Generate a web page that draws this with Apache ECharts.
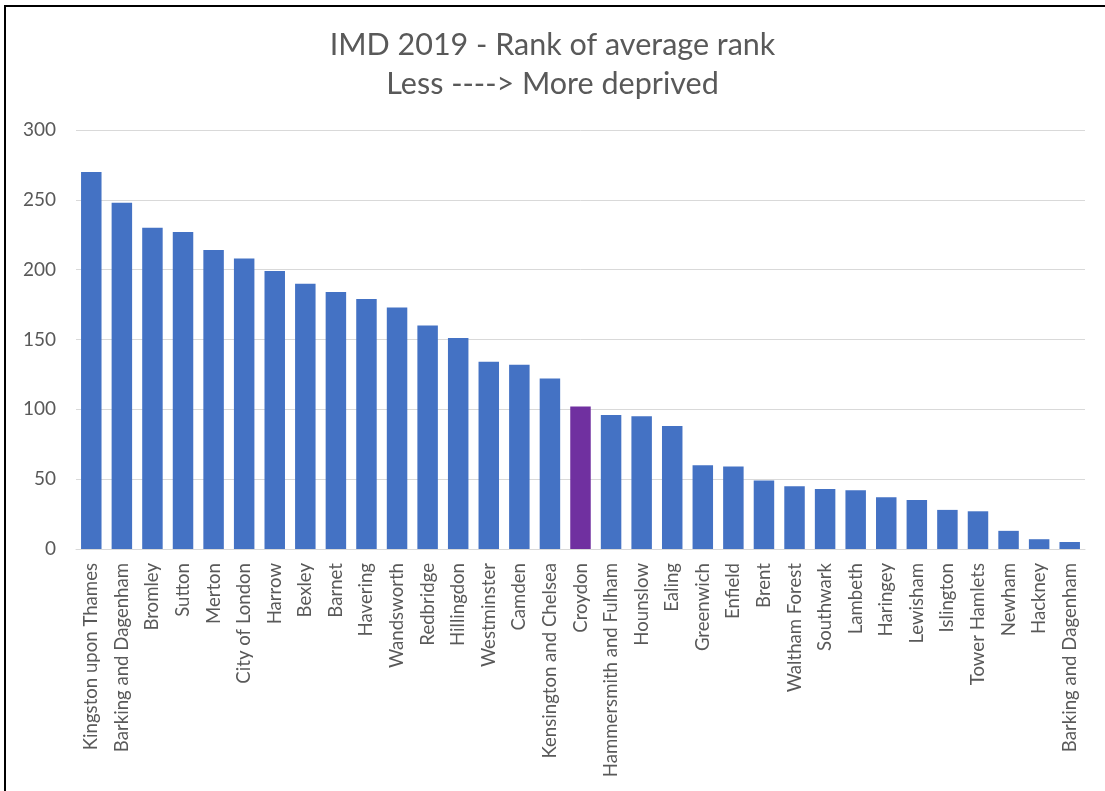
<!DOCTYPE html>
<html>
<head>
<meta charset="utf-8">
<script src="https://cdn.jsdelivr.net/npm/echarts@6/dist/echarts.min.js"></script>
<style>
  html, body { margin: 0; padding: 0; background: #fff; }
  #chart { position: absolute; left: 0; top: 0; width: 1105px; height: 791px; }
  #frameTop { position: absolute; left: 4px; top: 5px; width: 1101px; height: 2px; background: #000; }
  #frameLeft { position: absolute; left: 4px; top: 5px; width: 2px; height: 786px; background: #000; }
</style>
</head>
<body>
<div id="chart"></div>
<div id="frameTop"></div>
<div id="frameLeft"></div>
<script>
const titleLines = ['IMD 2019 - Rank of average rank', 'Less ----> More deprived'];
const categories = [
  'Kingston upon Thames', 'Barking and Dagenham', 'Bromley', 'Sutton', 'Merton',
  'City of London', 'Harrow', 'Bexley', 'Barnet', 'Havering', 'Wandsworth',
  'Redbridge', 'Hillingdon', 'Westminster', 'Camden', 'Kensington and Chelsea',
  'Croydon', 'Hammersmith and Fulham', 'Hounslow', 'Ealing', 'Greenwich',
  'Enfield', 'Brent', 'Waltham Forest', 'Southwark', 'Lambeth', 'Haringey',
  'Lewisham', 'Islington', 'Tower Hamlets', 'Newham', 'Hackney', 'Barking and Dagenham'
];
const values = [
  270, 248, 230, 227, 214,
  208, 199, 190, 184, 179, 173,
  160, 151, 134, 132, 122,
  102, 96, 95, 88, 60,
  59, 49, 45, 43, 42, 37,
  35, 28, 27, 13, 7, 5
];
const highlighted = ['Croydon'];
const yTicks = [0, 50, 100, 150, 200, 250, 300];

const baseColor = '#4472C4';
const highlightColor = '#7030A0';
const textColor = '#595959';
const font = 'Lato';

const chart = echarts.init(document.getElementById('chart'), null, { renderer: 'canvas' });
chart.setOption({
  animation: false,
  backgroundColor: '#ffffff',
  title: {
    text: titleLines.join('\n'),
    left: 'center',
    top: 26,
    padding: 0,
    textStyle: {
      fontFamily: font,
      fontSize: 30.5,
      fontWeight: 'normal',
      color: textColor,
      lineHeight: 39
    }
  },
  grid: { left: 76, right: 20, top: 130, bottom: 242, containLabel: false },
  xAxis: {
    type: 'category',
    data: categories,
    axisLine: { show: true, lineStyle: { color: '#d9d9d9', width: 1 } },
    axisTick: { show: false },
    axisLabel: {
      interval: 0,
      rotate: 90,
      margin: 14,
      color: textColor,
      fontFamily: font,
      fontSize: 18.6
    }
  },
  yAxis: {
    type: 'value',
    min: yTicks[0],
    max: yTicks[yTicks.length - 1],
    interval: yTicks[1] - yTicks[0],
    axisLine: { show: false },
    axisTick: { show: false },
    splitLine: { lineStyle: { color: '#d9d9d9', width: 1 } },
    axisLabel: {
      margin: 20,
      color: textColor,
      fontFamily: font,
      fontSize: 19
    }
  },
  series: [{
    type: 'bar',
    barCategoryGap: '33%',
    data: values.map((v, i) => ({
      value: v,
      itemStyle: { color: highlighted.includes(categories[i]) ? highlightColor : baseColor }
    }))
  }]
});
</script>
</body>
</html>
